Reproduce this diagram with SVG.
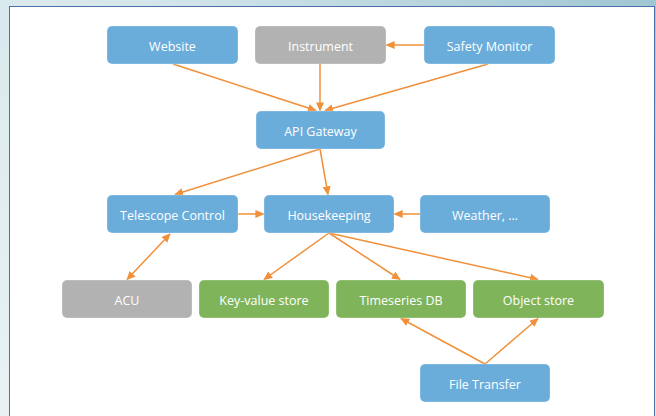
<svg xmlns="http://www.w3.org/2000/svg" width="656" height="416" viewBox="0 0 656 416">
  <defs>
    <linearGradient id="bg" x1="0" y1="1" x2="1" y2="0">
      <stop offset="0" stop-color="#eaf2f4"/>
      <stop offset="0.6" stop-color="#d6e7ec"/>
      <stop offset="1" stop-color="#9fc6d2"/>
    </linearGradient>
    <marker id="arrow" viewBox="0 0 10 10" refX="9" refY="5" markerWidth="6" markerHeight="6" markerUnits="strokeWidth" orient="auto-start-reverse">
      <path d="M0,0.5 L10,5 L0,9.5 Z" fill="#f0903a"/>
    </marker>
    <style>
      .node rect { stroke: #ffffff; stroke-opacity: 0.35; stroke-width: 0.8; }
      .blue rect { fill: #6aaddb; }
      .grey rect { fill: #b2b2b2; }
      .green rect { fill: #80b45b; }
      .node text { font-family: "Open Sans", "Noto Sans", sans-serif; font-size: 12.5px; fill: #ffffff; text-anchor: middle; }
      .edges line { stroke: #f0903a; stroke-width: 1.5; fill: none; }
    </style>
  </defs>

  <!-- backdrop and canvas -->
  <rect x="0" y="0" width="656" height="416" fill="url(#bg)"/>
  <rect x="9.5" y="6.5" width="645" height="420" fill="#ffffff" stroke="#4a72a6" stroke-width="1"/>

  <!-- connectors -->
  <g id="connectors" class="edges">
    <line x1="173" y1="64" x2="316" y2="110.5" marker-end="url(#arrow)"/>
    <line x1="320" y1="64" x2="320" y2="110.5" marker-end="url(#arrow)"/>
    <line x1="488" y1="64" x2="325" y2="110.5" marker-end="url(#arrow)"/>
    <line x1="424" y1="45" x2="386.5" y2="45" marker-end="url(#arrow)"/>
    <line x1="320" y1="149" x2="175" y2="194.5" marker-end="url(#arrow)"/>
    <line x1="320" y1="149" x2="328" y2="194.5" marker-end="url(#arrow)"/>
    <line x1="238" y1="214" x2="263.5" y2="214" marker-end="url(#arrow)"/>
    <line x1="420" y1="214" x2="394.5" y2="214" marker-end="url(#arrow)"/>
    <line x1="170" y1="234" x2="127" y2="279.5" marker-start="url(#arrow)" marker-end="url(#arrow)"/>
    <line x1="329" y1="233" x2="264" y2="279.5" marker-end="url(#arrow)"/>
    <line x1="329" y1="233" x2="400" y2="279.5" marker-end="url(#arrow)"/>
    <line x1="329" y1="233" x2="538" y2="279.5" marker-end="url(#arrow)"/>
    <line x1="485" y1="364" x2="401" y2="318.5" marker-end="url(#arrow)"/>
    <line x1="485" y1="364" x2="538" y2="318.5" marker-end="url(#arrow)"/>
  </g>

  <!-- nodes -->
  <g id="website" class="node blue">
    <rect x="107" y="26" width="131" height="38" rx="5"/>
    <text x="172.5" y="50.5">Website</text>
  </g>
  <g id="instrument" class="node grey">
    <rect x="255" y="26" width="131" height="38" rx="5"/>
    <text x="320.5" y="50.5">Instrument</text>
  </g>
  <g id="safety-monitor" class="node blue">
    <rect x="424" y="26" width="131" height="38" rx="5"/>
    <text x="489.5" y="50.5">Safety Monitor</text>
  </g>
  <g id="api-gateway" class="node blue">
    <rect x="256" y="111" width="129" height="38" rx="5"/>
    <text x="320.5" y="135.5">API Gateway</text>
  </g>
  <g id="telescope-control" class="node blue">
    <rect x="107" y="195" width="131" height="38" rx="5"/>
    <text x="172.5" y="219.5">Telescope Control</text>
  </g>
  <g id="housekeeping" class="node blue">
    <rect x="264" y="195" width="130" height="38" rx="5"/>
    <text x="329" y="219.5">Housekeeping</text>
  </g>
  <g id="weather" class="node blue">
    <rect x="420" y="195" width="130" height="38" rx="5"/>
    <text x="485" y="219.5">Weather, …</text>
  </g>
  <g id="acu" class="node grey">
    <rect x="62" y="280" width="130" height="38" rx="5"/>
    <text x="127" y="304.5">ACU</text>
  </g>
  <g id="key-value-store" class="node green">
    <rect x="199" y="280" width="130" height="38" rx="5"/>
    <text x="264" y="304.5">Key-value store</text>
  </g>
  <g id="timeseries-db" class="node green">
    <rect x="336" y="280" width="130" height="38" rx="5"/>
    <text x="401" y="304.5">Timeseries DB</text>
  </g>
  <g id="object-store" class="node green">
    <rect x="473" y="280" width="131" height="38" rx="5"/>
    <text x="538.5" y="304.5">Object store</text>
  </g>
  <g id="file-transfer" class="node blue">
    <rect x="420" y="364" width="130" height="38" rx="5"/>
    <text x="485" y="388.5">File Transfer</text>
  </g>
</svg>
